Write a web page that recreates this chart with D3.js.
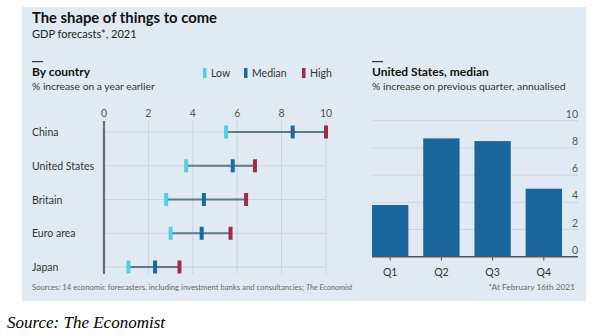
<!DOCTYPE html>
<html lang="en">
<head>
<meta charset="UTF-8">
<title>The shape of things to come</title>
<script src="https://d3js.org/d3.v7.min.js"></script>
<style>
  body { margin: 0; background: #fff; }
  svg text { font-family: Lato, "Open Sans", sans-serif; }
</style>
</head>
<body>
<div id="chart"></div>
<script>
// data
const countries = ["China", "United States", "Britain", "Euro area", "Japan"];
const lowValues = [5.5, 3.7, 2.8, 3.0, 1.1];
const medianValues = [8.5, 5.8, 4.5, 4.4, 2.3];
const highValues = [10, 6.8, 6.4, 5.7, 3.4];
const countryTicks = [0, 2, 4, 6, 8, 10];

const quarters = ["Q1", "Q2", "Q3", "Q4"];
const usMedian = [3.8, 8.7, 8.5, 5.0];
const quarterTicks = [0, 2, 4, 6, 8, 10];

const W = 601, H = 336;
const bg = "#e1eaf2", gridCol = "#c9d4de";
const lowCol = "#4fd0e0", medCol = "#1b6aa0", highCol = "#a12a45";

const svg = d3.select("#chart").append("svg")
  .attr("width", W).attr("height", H);

// panel background
svg.append("rect").attr("x", 22).attr("y", 7).attr("width", 564).attr("height", 294).attr("fill", bg);

// titles
svg.append("text").attr("x", 32).attr("y", 23).attr("font-size", 14.8).attr("font-weight", 700)
  .attr("fill", "#111").text("The shape of things to come");
svg.append("text").attr("x", 32).attr("y", 38).attr("font-size", 11).attr("fill", "#222")
  .text("GDP forecasts*, 2021");

// left panel header
svg.append("rect").attr("x", 32).attr("y", 61).attr("width", 11).attr("height", 1.2).attr("fill", "#333");
svg.append("text").attr("x", 32).attr("y", 76).attr("font-size", 12).attr("font-weight", 700)
  .attr("fill", "#111").text("By country");
svg.append("text").attr("x", 32).attr("y", 90).attr("font-size", 10.3).attr("fill", "#333")
  .text("% increase on a year earlier");

// legend
const legend = [["Low", lowCol, 203], ["Median", medCol, 244], ["High", highCol, 302]];
legend.forEach(([name, col, lx]) => {
  svg.append("rect").attr("x", lx).attr("y", 68).attr("width", 3.5).attr("height", 10).attr("fill", col);
  svg.append("text").attr("x", lx + 8).attr("y", 77).attr("font-size", 10.5).attr("fill", "#333").text(name);
});

// right panel header
svg.append("rect").attr("x", 372).attr("y", 61).attr("width", 11).attr("height", 1.2).attr("fill", "#333");
svg.append("text").attr("x", 372).attr("y", 76).attr("font-size", 12).attr("font-weight", 700)
  .attr("fill", "#111").text("United States, median");
svg.append("text").attr("x", 372).attr("y", 90).attr("font-size", 10.4).attr("fill", "#333")
  .text("% increase on previous quarter, annualised");

// ---- left chart: ranges by country
const x = d3.scaleLinear().domain([0, 10]).range([104, 326]);
const y = d3.scalePoint().domain(countries).range([132, 267]);

const gL = svg.append("g");
gL.selectAll(".vgrid").data(countryTicks.slice(1)).enter().append("line")
  .attr("x1", d => x(d)).attr("x2", d => x(d)).attr("y1", 121).attr("y2", 274)
  .attr("stroke", gridCol).attr("stroke-width", 1);
gL.selectAll(".hgrid").data(countries).enter().append("line")
  .attr("x1", x(0)).attr("x2", x(10)).attr("y1", d => y(d)).attr("y2", d => y(d))
  .attr("stroke", gridCol).attr("stroke-width", 1);
gL.append("line").attr("x1", x(0)).attr("x2", x(0)).attr("y1", 121).attr("y2", 274)
  .attr("stroke", "#6a6d70").attr("stroke-width", 2.2);
gL.selectAll(".xlab").data(countryTicks).enter().append("text")
  .attr("x", d => x(d)).attr("y", 117).attr("text-anchor", "middle")
  .attr("font-size", 10.5).attr("fill", "#555").text(d => d);
gL.selectAll(".clab").data(countries).enter().append("text")
  .attr("x", 32).attr("y", d => y(d) + 4).attr("font-size", 10.5).attr("fill", "#333").text(d => d);

countries.forEach((c, i) => {
  gL.append("line").attr("x1", x(lowValues[i])).attr("x2", x(highValues[i]))
    .attr("y1", y(c)).attr("y2", y(c)).attr("stroke", "#5c7a88").attr("stroke-width", 2);
  [[lowValues[i], lowCol], [medianValues[i], medCol], [highValues[i], highCol]].forEach(([v, col]) => {
    gL.append("rect").attr("x", x(v) - 2).attr("y", y(c) - 6.5).attr("width", 4).attr("height", 13)
      .attr("fill", col);
  });
});

// ---- right chart: US quarterly bars
const xb = d3.scaleBand().domain(quarters).range([372, 562]).paddingInner(0.29).paddingOuter(0);
const yb = d3.scaleLinear().domain([0, 10]).range([256.7, 120.7]);

const gR = svg.append("g");
gR.selectAll(".grid").data(quarterTicks.slice(1)).enter().append("line")
  .attr("x1", 372).attr("x2", 578).attr("y1", d => yb(d)).attr("y2", d => yb(d))
  .attr("stroke", gridCol).attr("stroke-width", 1);
gR.selectAll(".ylab").data(quarterTicks).enter().append("text")
  .attr("x", 578).attr("y", d => yb(d) - 3).attr("text-anchor", "end")
  .attr("font-size", 10.5).attr("fill", "#555").text(d => d);
gR.selectAll(".bar").data(quarters).enter().append("rect")
  .attr("x", d => xb(d)).attr("width", xb.bandwidth())
  .attr("y", (d, i) => yb(usMedian[i])).attr("height", (d, i) => yb(0) - yb(usMedian[i]))
  .attr("fill", "#1a659b");
gR.append("line").attr("x1", 372).attr("x2", 578).attr("y1", yb(0)).attr("y2", yb(0))
  .attr("stroke", "#555").attr("stroke-width", 1.5);
gR.selectAll(".qtick").data(quarters).enter().append("line")
  .attr("x1", d => xb(d) + xb.bandwidth() / 2).attr("x2", d => xb(d) + xb.bandwidth() / 2)
  .attr("y1", yb(0)).attr("y2", yb(0) + 4).attr("stroke", "#555").attr("stroke-width", 1);
gR.selectAll(".qlab").data(quarters).enter().append("text")
  .attr("x", d => xb(d) + xb.bandwidth() / 2).attr("y", 276).attr("text-anchor", "middle")
  .attr("font-size", 10.5).attr("fill", "#333").text(d => d);

// footer
const src = svg.append("text").attr("x", 32).attr("y", 290).attr("font-size", 7.7).attr("fill", "#666");
src.append("tspan").text("Sources: 14 economic forecasters, including investment banks and consultancies; ");
src.append("tspan").attr("font-style", "italic").text("The Economist");
svg.append("text").attr("x", 575).attr("y", 290).attr("text-anchor", "end").attr("font-size", 8.3)
  .attr("fill", "#666").text("*At February 16th 2021");

svg.append("text").attr("x", 7).attr("y", 328).attr("font-size", 17).attr("font-style", "italic")
  .attr("fill", "#000").style("font-family", "'Liberation Serif', 'DejaVu Serif', serif")
  .text("Source: The Economist");
</script>
</body>
</html>
